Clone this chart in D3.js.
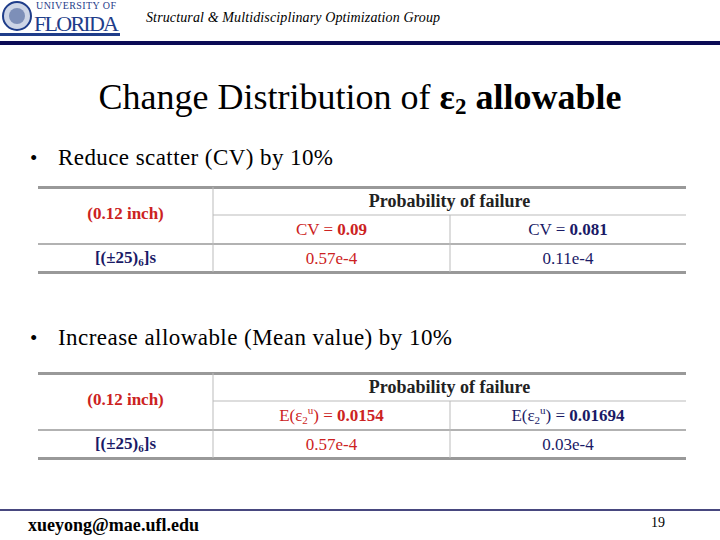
<!DOCTYPE html>
<html><head><meta charset="utf-8">
<script src="https://cdn.jsdelivr.net/npm/d3@7"></script>
<style>body{margin:0;background:#fff}svg{display:block}</style>
</head><body>
<script>
// slide data
var headerText = "Structural & Multidisciplinary Optimization Group";
var bullets = ["Reduce scatter (CV) by 10%", "Increase allowable (Mean value) by 10%"];
var bulletWidths = [275, 394];
var thickness = "(0.12 inch)";
var layup = "[(±25)", layupSub = "6", layupEnd = "]s";
var colHeaders1 = [["CV = ", "0.09"], ["CV = ", "0.081"]];
var colHeaders2 = [["E(ε", "0.0154"], ["E(ε", "0.01694"]];
var pf1 = ["0.57e-4", "0.11e-4"];
var pf2 = ["0.57e-4", "0.03e-4"];
var tableTops = [187, 373];
var colors = ["#cc2222", "#1a1a66"];

var W = 720, H = 540;
var svg = d3.select('body').append('svg').attr('width', W).attr('height', H)
  .style('font-family', '"Liberation Serif", "Times New Roman", serif');

// logo
var logo = svg.append('g');
logo.append('circle').attr('cx', 17).attr('cy', 16).attr('r', 14).attr('fill', '#cdd5e6').attr('stroke', '#1f3d8a').attr('stroke-width', 2);
logo.append('circle').attr('cx', 17).attr('cy', 16).attr('r', 8).attr('fill', '#7d8fb8');
logo.append('text').attr('x', 36).attr('y', 9).attr('font-size', 10).attr('fill', '#1f3d8a').attr('textLength', 80).text('UNIVERSITY OF');
logo.append('text').attr('x', 34).attr('y', 31).attr('font-size', 22).attr('fill', '#1f3d8a').attr('textLength', 85).text('FLORIDA');
logo.append('rect').attr('x', 0).attr('y', 33).attr('width', 120).attr('height', 3).attr('fill', '#1f3d8a');

svg.append('text').attr('x', 146).attr('y', 22).attr('font-size', 14).attr('font-style', 'italic').attr('textLength', 294).text(headerText);
svg.append('rect').attr('x', 0).attr('y', 41).attr('width', W).attr('height', 4).attr('fill', '#0b0b55');

// title
var title = svg.append('text').attr('x', 360).attr('y', 109).attr('text-anchor', 'middle').attr('font-size', 36);
title.append('tspan').text('Change Distribution of ');
title.append('tspan').attr('font-weight', 'bold').text('ε');
title.append('tspan').attr('font-weight', 'bold').attr('font-size', 23).attr('dy', 5).text('2');
title.append('tspan').attr('font-weight', 'bold').attr('dy', -5).text(' allowable');

// bullets
[165, 345].forEach(function(y, i) {
  svg.append('text').attr('x', 30).attr('y', y).attr('font-size', 21).text('•');
  svg.append('text').attr('x', 58).attr('y', y).attr('font-size', 23).attr('textLength', bulletWidths[i]).text(bullets[i]);
});

// tables
var colX = [38, 213, 450, 686];
function drawTable(top, headers, pf, isE) {
  var g = svg.append('g');
  var rows = [top, top + 28, top + 57, top + 85];
  g.append('rect').attr('x', colX[0]).attr('y', top - 1).attr('width', colX[3] - colX[0]).attr('height', 3).attr('fill', '#999');
  g.append('rect').attr('x', colX[0]).attr('y', rows[3] - 1).attr('width', colX[3] - colX[0]).attr('height', 3).attr('fill', '#999');
  g.append('line').attr('x1', colX[1]).attr('x2', colX[3]).attr('y1', rows[1]).attr('y2', rows[1]).attr('stroke', '#bbb');
  g.append('line').attr('x1', colX[0]).attr('x2', colX[3]).attr('y1', rows[2]).attr('y2', rows[2]).attr('stroke', '#999').attr('stroke-width', 1.5);
  g.append('line').attr('x1', colX[1]).attr('x2', colX[1]).attr('y1', top).attr('y2', rows[3]).attr('stroke', '#bbb');
  g.append('line').attr('x1', colX[2]).attr('x2', colX[2]).attr('y1', rows[1]).attr('y2', rows[3]).attr('stroke', '#bbb');

  g.append('text').attr('x', (colX[0] + colX[1]) / 2).attr('y', top + 32).attr('text-anchor', 'middle')
    .attr('font-size', 17).attr('font-weight', 'bold').attr('fill', colors[0]).text(thickness);
  g.append('text').attr('x', (colX[1] + colX[3]) / 2).attr('y', top + 20).attr('text-anchor', 'middle')
    .attr('font-size', 18).attr('font-weight', 'bold').attr('fill', '#222').text('Probability of failure');
  var l = g.append('text').attr('x', (colX[0] + colX[1]) / 2).attr('y', top + 76).attr('text-anchor', 'middle')
    .attr('font-size', 17).attr('font-weight', 'bold').attr('fill', colors[1]);
  l.append('tspan').text(layup);
  l.append('tspan').attr('font-size', 11).attr('dy', 3).text(layupSub);
  l.append('tspan').attr('dy', -3).text(layupEnd);

  headers.forEach(function(h, i) {
    var t = g.append('text').attr('x', (colX[i + 1] + colX[i + 2]) / 2).attr('y', top + 48)
      .attr('text-anchor', 'middle').attr('font-size', 17).attr('fill', colors[i]);
    t.append('tspan').text(h[0]);
    if (isE) {
      t.append('tspan').attr('font-size', 11).attr('dy', 3).text('2');
      t.append('tspan').attr('font-size', 11).attr('dy', -10).text('u');
      t.append('tspan').attr('dy', 7).text(') = ');
    }
    t.append('tspan').attr('font-weight', 'bold').text(h[1]);
  });
  pf.forEach(function(v, i) {
    g.append('text').attr('x', (colX[i + 1] + colX[i + 2]) / 2).attr('y', top + 77)
      .attr('text-anchor', 'middle').attr('font-size', 17).attr('fill', colors[i]).text(v);
  });
}
drawTable(tableTops[0], colHeaders1, pf1, false);
drawTable(tableTops[1], colHeaders2, pf2, true);

// footer
svg.append('line').attr('x1', 0).attr('x2', W).attr('y1', 510).attr('y2', 510).attr('stroke', '#0b0b55').attr('stroke-width', 1.5);
svg.append('text').attr('x', 28).attr('y', 531).attr('font-size', 18).attr('font-weight', 'bold').attr('textLength', 171).text('xueyong@mae.ufl.edu');
svg.append('text').attr('x', 665).attr('y', 527).attr('text-anchor', 'end').attr('font-size', 14).text('19');
</script>
</body></html>
